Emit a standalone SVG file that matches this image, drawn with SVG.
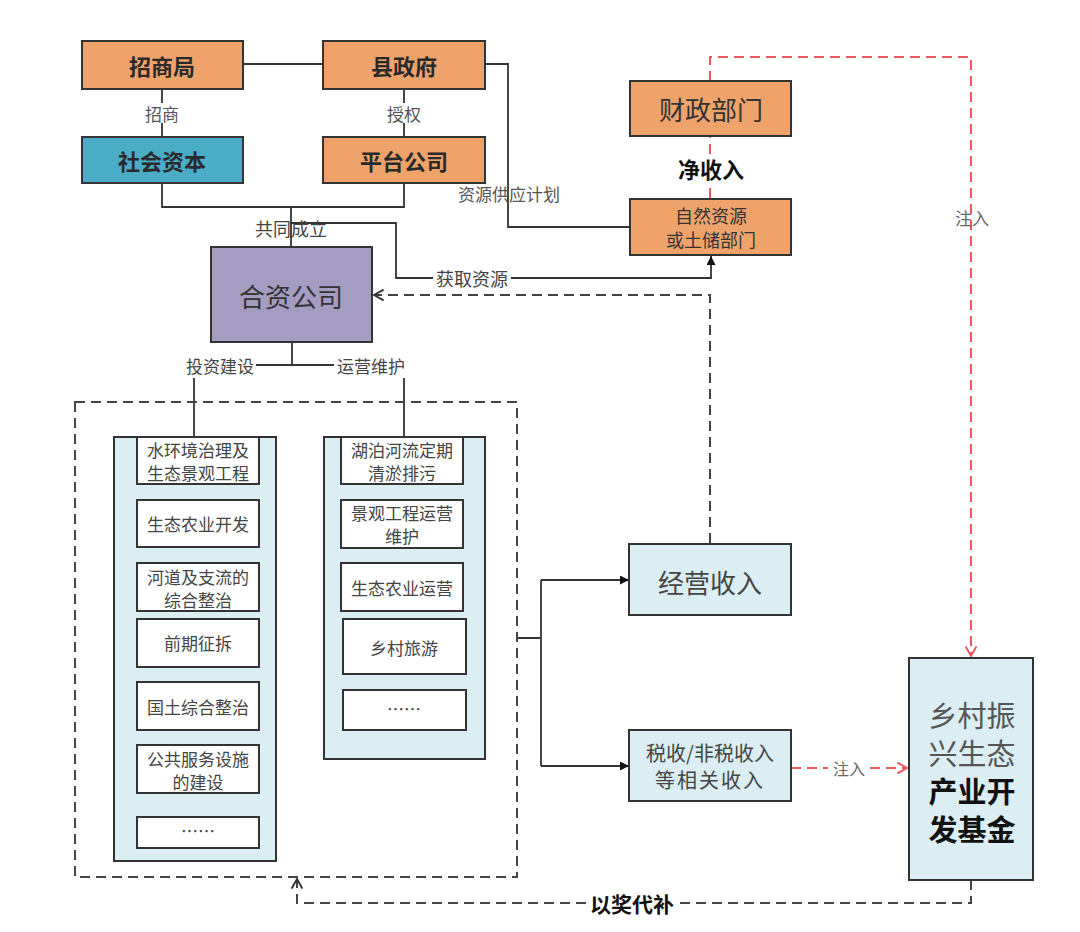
<svg xmlns="http://www.w3.org/2000/svg" width="1080" height="932" viewBox="0 0 1080 932">
<defs>
<style>
text{font-family:"Noto Sans CJK SC","Noto Sans",sans-serif;text-anchor:middle;dominant-baseline:central;fill:#3a3a3a}
.box{stroke:#333;stroke-width:2}
.org{fill:#EFA36B}
.teal{fill:#4BACC6}
.pur{fill:#A59CC2}
.lb{fill:#DAEEF3}
.wh{fill:#fff}
.ln{fill:none;stroke:#333;stroke-width:1.8}
.dl{fill:none;stroke:#444;stroke-width:2;stroke-dasharray:10 6}
.rl{fill:none;stroke:#F0575A;stroke-width:2;stroke-dasharray:10 6}
.t22b{font-size:22px;font-weight:700;fill:#2a2a2a}
.t18{font-size:17px;fill:#444}
.lab{font-size:17px;fill:#555}
.f31{font-size:29px}
</style>
<marker id="af" viewBox="0 0 10 10" refX="10" refY="5" markerWidth="9" markerHeight="9" markerUnits="userSpaceOnUse" orient="auto"><path d="M0,0 L10,5 L0,10 z" fill="#111"/></marker>
<marker id="ao" viewBox="0 0 10 10" refX="9" refY="5" markerWidth="12" markerHeight="12" markerUnits="userSpaceOnUse" orient="auto"><path d="M1,0.5 L9,5 L1,9.5" fill="none" stroke="#333" stroke-width="1.6"/></marker>
<marker id="ar" viewBox="0 0 10 10" refX="9" refY="5" markerWidth="12" markerHeight="12" markerUnits="userSpaceOnUse" orient="auto"><path d="M1,0.5 L9,5 L1,9.5" fill="none" stroke="#F0575A" stroke-width="1.6"/></marker>
</defs>
<rect width="1080" height="932" fill="#fff"/>

<g id="connectors">
<path class="ln" d="M243,64 H323"/>
<path class="ln" d="M162,89 V103 M162,123 V137"/>
<path class="ln" d="M404,89 V103 M404,123 V137"/>
<path class="ln" d="M162,183 V207 H404 V183 M291,207 V247"/>
<path class="ln" d="M485,64 H508 V227 H630"/>
<path class="ln" d="M291,223 H396 V278 H433 M511,278 H711 V256" marker-end="url(#af)"/>
<path class="dl" d="M710,543 V295 H374" marker-end="url(#ao)"/>
<path class="ln" d="M292,342 V365 M256,365 H334"/>
<path class="ln" d="M194,378 V437 M404,378 V437"/>
<path class="ln" d="M517,638 H541 M541,580 V766"/>
<path class="ln" d="M541,580 H629" marker-end="url(#af)"/>
<path class="ln" d="M541,766 H629" marker-end="url(#af)"/>
<path class="rl" d="M710,198 V182 M710,154 V136"/>
<path class="rl" d="M710,81 V57 H971 V656" marker-end="url(#ar)"/>
<path class="rl" d="M791,768 H828 M870,768 H907" marker-end="url(#ar)"/>
<path class="dl" d="M971,880 V903 H680 M586,903 H297 V879" marker-end="url(#ao)"/>
<rect x="75" y="402" width="442" height="475" class="dl"/>
</g>

<g id="labels">
<text x="162" y="113" class="lab">招商</text>
<text x="404" y="113" class="lab">授权</text>
<text x="291" y="228" style="font-size:18px;fill:#444">共同成立</text>
<text x="509" y="193" class="lab">资源供应计划</text>
<text x="472" y="278" style="font-size:18px;fill:#444">获取资源</text>
<text x="220" y="365" class="lab" style="fill:#444">投资建设</text>
<text x="371" y="365" class="lab" style="fill:#444">运营维护</text>
<text x="711" y="168" style="font-size:22px;font-weight:700;fill:#111">净收入</text>
<text x="972" y="217" class="lab" style="fill:#666">注入</text>
<text x="849" y="768" style="font-size:16px;fill:#666">注入</text>
<text x="632" y="903" style="font-size:21px;font-weight:700;fill:#111">以奖代补</text>
</g>

<g id="n-zhaoshangju"><rect x="82" y="41" width="161" height="48" class="box org"/><text x="162" y="65" class="t22b">招商局</text></g>
<g id="n-xianzhengfu"><rect x="323" y="41" width="162" height="48" class="box org"/><text x="404" y="65" class="t22b">县政府</text></g>
<g id="n-shehuiziben"><rect x="82" y="137" width="161" height="46" class="box teal"/><text x="162" y="160" class="t22b">社会资本</text></g>
<g id="n-pingtai"><rect x="323" y="137" width="162" height="46" class="box org"/><text x="404" y="160" class="t22b">平台公司</text></g>
<g id="n-caizheng"><rect x="630" y="81" width="161" height="55" class="box org"/><text x="711" y="108" style="font-size:26px;fill:#333">财政部门</text></g>
<g id="n-ziran"><rect x="630" y="199" width="161" height="56" class="box org"/><text x="711" y="215" style="font-size:18px;fill:#333">自然资源</text><text x="711" y="239" style="font-size:18px;fill:#333">或土储部门</text></g>
<g id="n-hezi"><rect x="211" y="247" width="161" height="95" class="box pur"/><text x="291" y="295" style="font-size:26px;fill:#333">合资公司</text></g>

<g id="n-col-left">
<rect x="114" y="437" width="162" height="424" class="box lb"/>
<rect x="137" y="437" width="122" height="47" class="box wh"/><text x="198" y="449" class="t18">水环境治理及</text><text x="198" y="472" class="t18">生态景观工程</text>
<rect x="137" y="500" width="122" height="47" class="box wh"/><text x="198" y="523" class="t18">生态农业开发</text>
<rect x="137" y="563" width="122" height="48" class="box wh"/><text x="198" y="576" class="t18">河道及支流的</text><text x="198" y="599" class="t18">综合整治</text>
<rect x="137" y="619" width="122" height="48" class="box wh"/><text x="198" y="642" class="t18">前期征拆</text>
<rect x="137" y="682" width="122" height="48" class="box wh"/><text x="198" y="706" class="t18">国土综合整治</text>
<rect x="137" y="745" width="122" height="48" class="box wh"/><text x="198" y="758" class="t18">公共服务设施</text><text x="198" y="781" class="t18">的建设</text>
<rect x="137" y="817" width="122" height="31" class="box wh"/><text x="198" y="830" class="t18">……</text>
</g>

<g id="n-col-right">
<rect x="324" y="437" width="161" height="322" class="box lb"/>
<rect x="341" y="437" width="122" height="47" class="box wh"/><text x="402" y="449" class="t18">湖泊河流定期</text><text x="402" y="472" class="t18">清淤排污</text>
<rect x="341" y="500" width="122" height="48" class="box wh"/><text x="402" y="512" class="t18">景观工程运营</text><text x="402" y="535" class="t18">维护</text>
<rect x="341" y="563" width="122" height="48" class="box wh"/><text x="402" y="587" class="t18">生态农业运营</text>
<rect x="343" y="619" width="123" height="55" class="box wh"/><text x="404" y="647" class="t18">乡村旅游</text>
<rect x="343" y="690" width="123" height="40" class="box wh"/><text x="404" y="708" class="t18">……</text>
</g>

<g id="n-jingying"><rect x="629" y="544" width="162" height="71" class="box lb"/><text x="710" y="581" style="font-size:26px;fill:#444">经营收入</text></g>
<g id="n-shuishou"><rect x="629" y="730" width="162" height="71" class="box lb"/><text x="710" y="752" style="font-size:20px;fill:#444">税收/非税收入</text><text x="710" y="779" style="font-size:20px;fill:#444;letter-spacing:2px">等相关收入</text></g>
<g id="n-fund"><rect x="909" y="658" width="124" height="222" class="box lb"/>
<text x="972" y="714" class="f31" style="fill:#555">乡村振</text>
<text x="972" y="752" class="f31" style="fill:#555">兴生态</text>
<text x="972" y="790" class="f31" style="font-weight:700;fill:#111">产业开</text>
<text x="972" y="828" class="f31" style="font-weight:700;fill:#111">发基金</text>
</g>
</svg>
